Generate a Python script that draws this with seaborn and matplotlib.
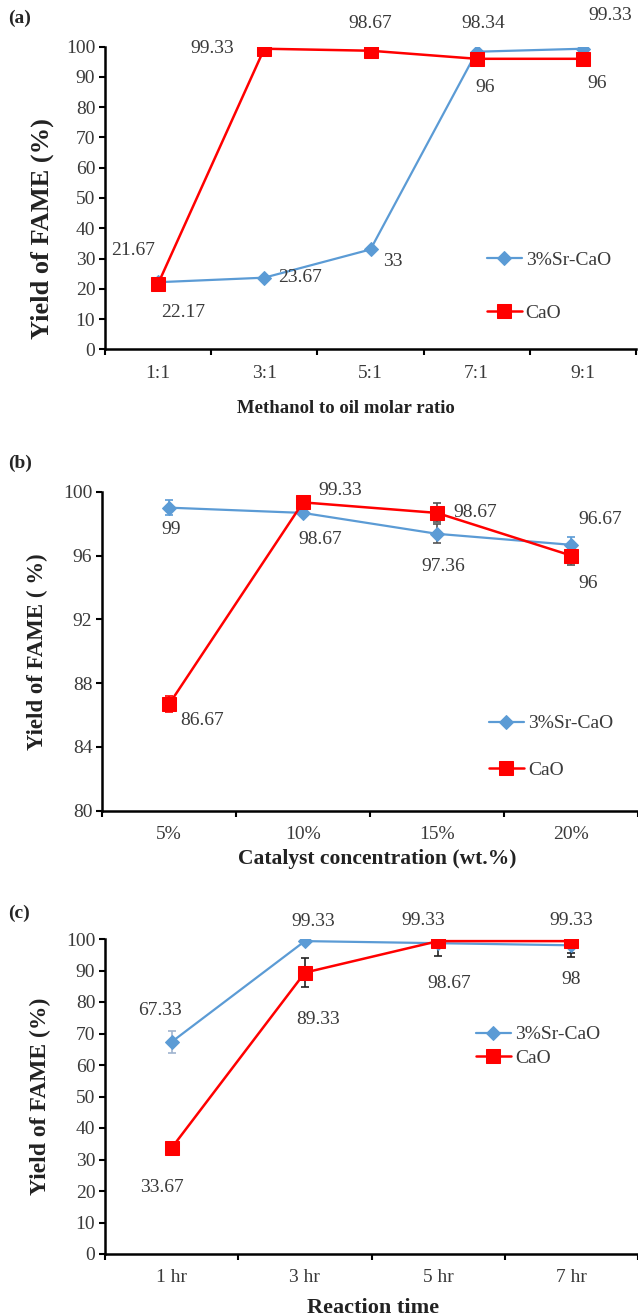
import numpy as np
import pandas as pd
import seaborn as sns
import matplotlib.pyplot as plt
from matplotlib.ticker import FixedLocator, MultipleLocator

# (a) methanol to oil molar ratio
ratio_labels = ["1:1", "3:1", "5:1", "7:1", "9:1"]
ratio_sr = [22.17, 23.67, 33, 98.34, 99.33]
ratio_cao = [21.67, 99.33, 98.67, 96, 96]

# (b) catalyst concentration
conc_labels = ["5%", "10%", "15%", "20%"]
conc_sr = [99, 98.67, 97.36, 96.67]
conc_cao = [86.67, 99.33, 98.67, 96]
conc_sr_err = [0.45, 0.2, 0.6, 0.5]
conc_cao_err = [0.5, 0.3, 0.6, 0.6]

# (c) reaction time
time_labels = ["1 hr", "3 hr", "5 hr", "7 hr"]
time_sr = [67.33, 99.33, 98.67, 98]
time_cao = [33.67, 89.33, 99.33, 99.33]
time_sr_err = [3.5, 0.5, 4.2, 2.4]
time_cao_err = [0.5, 4.7, 0.5, 4.9]

BLUE = "#5b9bd5"
RED = "#ff0000"
TXT = "#3a3a3a"
DARK = "#222222"

sns.set_theme(style="white")
plt.rcParams["font.family"] = ["Liberation Serif", "DejaVu Serif"]

fig = plt.figure(figsize=(6.38, 13.16), dpi=100)
W, H = 638, 1316


def axes_px(left, top, right, bottom):
    return fig.add_axes([left / W, 1 - bottom / H, (right - left) / W, (bottom - top) / H])


def draw_panel(ax, cats, sr, cao, sr_err, cao_err, ecolors, ylim, ystep, ylabel, xlabel,
               sr_off, cao_off, leg_anchor, leg_spacing, ylab_xy, xlab_xy, ylab_size, xlab_size):
    n = len(cats)
    # error bars, one per point so each can take its own colour
    for vals, err, ecs in ((sr, sr_err, ecolors[0]), (cao, cao_err, ecolors[1])):
        if err is None:
            continue
        for c, v, e, ec in zip(cats, vals, err, ecs):
            ax.errorbar([c], [v], yerr=[e], fmt="none", ecolor=ec, elinewidth=1.2,
                        capsize=3, capthick=1.2, zorder=2)
    df_sr = pd.DataFrame({"x": cats, "y": sr})
    df_cao = pd.DataFrame({"x": cats, "y": cao})
    sns.lineplot(data=df_sr, x="x", y="y", sort=False, color=BLUE, marker="D",
                 markersize=7, markeredgecolor=BLUE, linewidth=1.6, label="3%Sr-CaO",
                 ax=ax, zorder=3)
    sns.lineplot(data=df_cao, x="x", y="y", sort=False, color=RED, marker="s",
                 markersize=9.5, markeredgecolor=RED, linewidth=1.8, label="CaO",
                 ax=ax, zorder=4)

    # data labels
    for vals, offs in ((sr, sr_off), (cao, cao_off)):
        for c, v, (dx, dy) in zip(cats, vals, offs):
            ax.annotate(f"{v:g}", (c, v), xytext=(dx, -dy), textcoords="offset pixels",
                        ha="center", va="center", fontsize=14, color=TXT)

    ax.set_xlim(-0.5, n - 0.5)
    ax.set_ylim(*ylim)
    ax.yaxis.set_major_locator(MultipleLocator(ystep))
    ax.xaxis.set_minor_locator(FixedLocator(np.arange(n + 1) - 0.5))
    for s in ("top", "right"):
        ax.spines[s].set_visible(False)
    for s in ("left", "bottom"):
        ax.spines[s].set_color("black")
        ax.spines[s].set_linewidth(1.8)
    ax.tick_params(axis="y", which="major", direction="out", length=4, width=1.5,
                   color="black", labelsize=14, labelcolor=TXT, pad=3, left=True)
    ax.tick_params(axis="x", which="major", length=0, labelsize=14, labelcolor=TXT, pad=11)
    ax.tick_params(axis="x", which="minor", direction="out", length=4, width=1.5,
                   color="black", bottom=True)

    ax.set_ylabel(ylabel, fontsize=ylab_size, fontweight="bold", color=DARK)
    ax.yaxis.set_label_coords(*ylab_xy)
    ax.yaxis.label.set_va("center")
    ax.set_xlabel(xlabel, fontsize=xlab_size, fontweight="bold", color=DARK)
    ax.xaxis.set_label_coords(*xlab_xy)
    ax.xaxis.label.set_va("center")

    ax.legend(loc="center left", bbox_to_anchor=leg_anchor, frameon=False, fontsize=14,
              handlelength=1.8, handletextpad=0.2, labelspacing=leg_spacing,
              borderpad=0, borderaxespad=0, labelcolor=TXT)


ax_a = axes_px(105, 46.7, 636, 349.3)
draw_panel(ax_a, ratio_labels, ratio_sr, ratio_cao, None, None, (None, None),
           (0, 100), 10, "Yield of FAME (%)", "Methanol to oil molar ratio",
           [(25, 30), (36, 0), (22, 12), (7, -28), (27, -33)],
           [(-25, -33), (-52, 0), (0, -27), (8, 29), (14, 25)],
           (0.719, 0.207), 1.8, (-0.119, 0.40), (0.454, -0.195), 19, 13.5)

ax_b = axes_px(102, 491.7, 638, 810.7)
draw_panel(ax_b, conc_labels, conc_sr, conc_cao, conc_sr_err, conc_cao_err,
           ([BLUE, BLUE, "#555555", BLUE], [RED, RED, "#555555", "#555555"]),
           (80, 100), 4, "Yield of FAME ( %)", "Catalyst concentration (wt.%)",
           [(2, 22), (17, 27), (6, 33), (29, -25)],
           [(33, 16), (37, -12), (38, 0), (17, 28)],
           (0.722, 0.20), 1.5, (-0.121, 0.5), (0.514, -0.151), 16.5, 15.5)

ax_c = axes_px(105, 939, 638, 1254)
draw_panel(ax_c, time_labels, time_sr, time_cao, time_sr_err, time_cao_err,
           (["#9fb4cf", DARK, DARK, DARK], [DARK, DARK, DARK, DARK]),
           (0, 100), 10, "Yield of FAME (%)", "Reaction time",
           [(-12, -31), (8, -20), (11, 40), (0, 34)],
           [(-10, 40), (13, 47), (-15, -21), (0, -21)],
           (0.696, 0.659), 0.3, (-0.122, 0.5), (0.503, -0.171), 17, 16)

for letter, y in (("(a)", 18), ("(b)", 463), ("(c)", 913)):
    fig.text(8 / W, 1 - y / H, letter, fontsize=14, fontweight="bold", va="center", ha="left")

fig.savefig("out.png", dpi=100, facecolor="white")
